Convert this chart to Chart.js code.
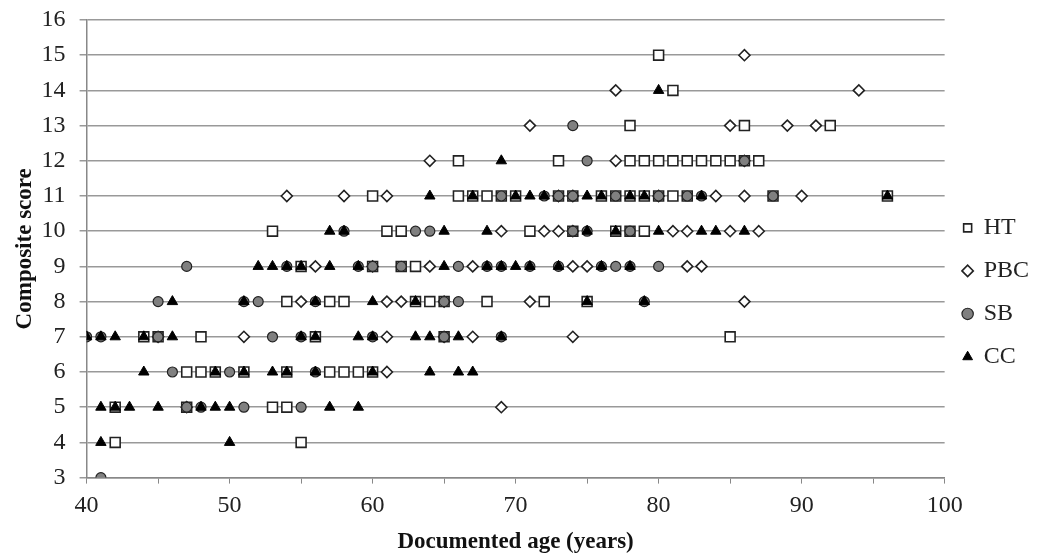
<!DOCTYPE html>
<html>
<head>
<meta charset="utf-8">
<script src="https://cdn.jsdelivr.net/npm/chart.js@4"></script>
<style>
  body { margin: 0; background: #fff; }
  #wrap { width: 1039px; height: 556px; }
</style>
</head>
<body>
<div id="wrap"><canvas id="scoreChart"></canvas></div>
<script>
  // composite score rows, top to bottom
  const scores = [15, 14, 13, 12, 11, 10, 9, 8, 7, 6, 5, 4, 3];

  // documented ages for each score row (same order as scores)
  const htAges = [
    [80], [81], [78, 86, 92],
    [66, 73, 78, 79, 80, 81, 82, 83, 84, 85, 86, 87],
    [60, 66, 67, 68, 69, 70, 73, 74, 76, 77, 78, 79, 80, 81, 82, 88, 96],
    [53, 61, 62, 71, 74, 77, 78, 79],
    [55, 60, 62, 63],
    [54, 57, 58, 63, 64, 65, 68, 72, 75],
    [44, 45, 48, 56, 65, 85],
    [47, 48, 49, 51, 54, 57, 58, 59, 60],
    [42, 47, 53, 54],
    [42, 55],
    []
  ];
  const pbcAges = [
    [86], [77, 94], [71, 85, 89, 91],
    [64, 77, 86],
    [54, 58, 61, 73, 74, 80, 84, 86, 90],
    [69, 72, 73, 74, 81, 82, 85, 87],
    [56, 60, 64, 67, 74, 75, 82, 83],
    [55, 61, 62, 65, 71, 86],
    [45, 51, 61, 65, 67, 74],
    [61],
    [47, 69],
    [], []
  ];
  const sbAges = [
    [], [], [74], [75, 86],
    [69, 72, 73, 74, 77, 80, 82, 83, 88],
    [58, 63, 64, 74, 75, 78],
    [47, 54, 59, 60, 62, 66, 68, 69, 71, 73, 76, 77, 78, 80],
    [45, 51, 52, 56, 65, 66, 79],
    [40, 41, 45, 53, 55, 60, 65, 69],
    [46, 50, 56],
    [47, 48, 51, 55],
    [],
    [41]
  ];
  const ccAges = [
    [], [80], [], [69],
    [64, 67, 70, 71, 72, 75, 76, 78, 79, 83, 96],
    [57, 58, 65, 68, 75, 77, 80, 83, 84, 86],
    [52, 53, 54, 55, 57, 59, 65, 68, 69, 70, 71, 73, 76, 78],
    [46, 51, 56, 60, 63, 75, 79],
    [40, 41, 42, 44, 46, 55, 56, 59, 60, 63, 64, 66, 69],
    [44, 49, 51, 53, 54, 56, 60, 64, 66, 67],
    [41, 42, 43, 45, 48, 49, 50, 57, 59],
    [41, 50],
    []
  ];

  const xTicks = [40, 50, 60, 70, 80, 90, 100];

  const toPoints = (rows) => rows.flatMap((ages, i) => ages.map(a => ({ x: a, y: scores[i] })));

  const serif = 'Liberation Serif, Times New Roman, serif';

  const ctx = document.getElementById('scoreChart').getContext('2d');

  const scoreChart = new Chart(ctx, {
    type: 'scatter',
    data: {
      datasets: [
        {
          label: 'HT',
          data: toPoints(htAges),
          pointStyle: 'rect',
          pointRadius: 7,
          backgroundColor: '#ffffff',
          borderColor: '#222',
          borderWidth: 1.6,
          order: 3
        },
        {
          label: 'PBC',
          data: toPoints(pbcAges),
          pointStyle: 'rectRot',
          pointRadius: 5.5,
          backgroundColor: '#ffffff',
          borderColor: '#222',
          borderWidth: 1.6,
          order: 2
        },
        {
          label: 'SB',
          data: toPoints(sbAges),
          pointStyle: 'circle',
          pointRadius: 5,
          backgroundColor: '#808080',
          borderColor: '#222',
          borderWidth: 1.2,
          order: 1
        },
        {
          label: 'CC',
          data: toPoints(ccAges),
          pointStyle: 'triangle',
          pointRadius: 6,
          backgroundColor: '#000000',
          borderColor: '#000000',
          borderWidth: 1,
          order: 0
        }
      ]
    },
    options: {
      responsive: true,
      maintainAspectRatio: false,
      animation: false,
      layout: {
        padding: { left: 0, top: 20, right: 0, bottom: 0 }
      },
      plugins: {
        legend: {
          position: 'right',
          title: {
            display: true,
            text: ' ',
            font: { size: 4 },
            padding: { top: 4, bottom: 0 }
          },
          labels: {
            usePointStyle: true,
            boxWidth: 8,
            boxHeight: 8,
            padding: 19,
            color: '#222',
            font: { family: serif, size: 24 },
            sort: (a, b) => a.datasetIndex - b.datasetIndex
          }
        },
        tooltip: { enabled: false }
      },
      scales: {
        x: {
          type: 'linear',
          min: 40,
          max: 100,
          ticks: {
            stepSize: 5,
            autoSkip: false,
            maxRotation: 0,
            color: '#222',
            padding: 8,
            font: { family: serif, size: 24 },
            callback: (value) => xTicks.includes(value) ? value : ''
          },
          grid: {
            drawOnChartArea: false,
            color: '#888',
            tickLength: 6
          },
          border: { color: '#888', width: 1.5 },
          title: {
            display: true,
            text: 'Documented age (years)',
            color: '#111',
            font: { family: serif, size: 23, weight: 'bold' },
            padding: { top: 0, bottom: 0 }
          }
        },
        y: {
          min: 3,
          max: 16,
          ticks: {
            stepSize: 1,
            color: '#222',
            padding: 14,
            font: { family: serif, size: 24 }
          },
          grid: {
            color: '#999',
            lineWidth: 1.5,
            tickLength: 7
          },
          border: { color: '#888', width: 1.5 },
          title: {
            display: true,
            text: 'Composite score',
            color: '#111',
            font: { family: serif, size: 23, weight: 'bold' },
            padding: { top: 11, bottom: 0 }
          },
          // tighten the axis box: chart.js reserves the tick padding twice
          afterFit: (scale) => {
            scale.width -= 11;
            scale.paddingTop = 4;
            scale.paddingBottom = 4;
          }
        }
      }
    }
  });
</script>
</body>
</html>
